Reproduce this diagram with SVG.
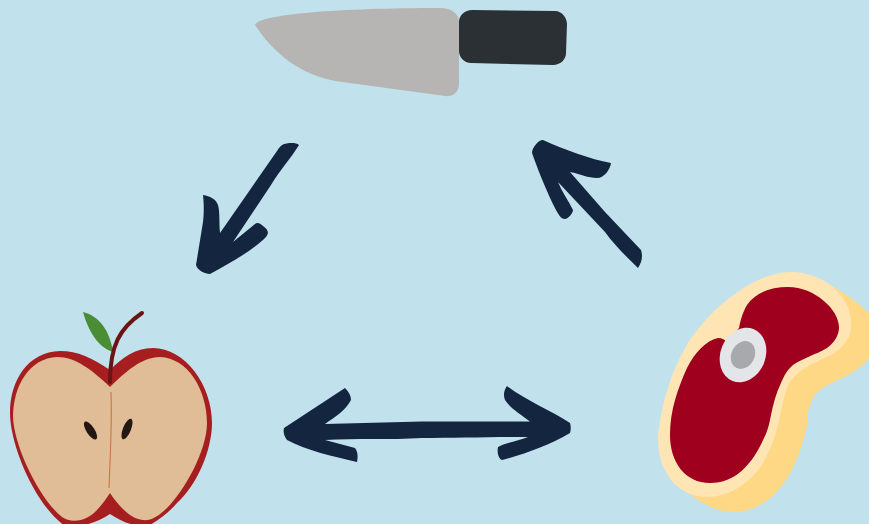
<svg xmlns="http://www.w3.org/2000/svg" width="869" height="524" viewBox="0 0 869 524">
<style>
.arrow{fill:#14253f}
.red{fill:#a61e20}
.flesh{fill:#e0bc97}
.seed{fill:#221811}
</style>
<rect width="869" height="524" fill="#c1e2ec"/>
<g id="knife">
<path fill="#b7b5b3" d="M255,25C258,14 340,8 440,8C452,8 459,14 459,22L459,84C459,92 453,97 445,96L335,81C300,74 275,55 255,25Z"/>
<path fill="#2b3034" d="M472,10L555,11C562,11 567,18 567,24L566,53C566,60 560,65 553,65L471,63C464,63 459,57 459,51L459,22C459,15 465,10 472,10Z"/>
</g>
<g id="apple">
<path class="red" d="M110,370C92,358 78,351 60,351C28,352 10,380 10,413C10,445 35,505 65,526C82,528 98,522 110,514C122,522 136,528 150,525C160,519 168,513 177,503C197,485 212,450 212,423C212,385 185,348 153,348C135,348 122,358 110,370Z"/>
<path class="flesh" d="M110,387C92,370 76,357 57,357C30,358 13,385 13,417C14,447 40,500 62,517C70,523 85,522 95,512C102,505 106,499 110,493Z"/>
<path class="flesh" d="M110,387C125,372 142,357 160,357C188,358 207,390 207,423C207,450 185,490 167,508C158,517 150,521 143,520C130,519 118,505 110,493Z"/>
<path fill="none" stroke="#c4703e" stroke-width="1" d="M111,392C112,425 110,460 109,488"/>
<ellipse class="seed" cx="90.500" cy="430.500" rx="4" ry="10.500" transform="rotate(-33 90.500 430.500)"/>
<ellipse class="seed" cx="127" cy="429" rx="4" ry="11" transform="rotate(22 127 429)"/>
<path fill="#4a8d35" d="M83,312C100,316 110,332 113,352C98,348 88,330 83,312Z"/>
<path fill="none" stroke="#6b1414" stroke-width="4" stroke-linecap="round" d="M110,382C110,345 120,328 142,313"/>
</g>
<g id="steak">
<path fill="#ffd885" d="M830,285C845,293 858,303 869,313L869,358C860,370 850,373 843,378C825,385 816,392 813,398C806,412 808,420 807,425C800,460 780,512 732,512C712,511 698,500 687,492Z"/>
<path fill="#ffe5b4" d="M790,272C825,272 851,297 851,322C851,332 850,336 847,340C838,355 822,358 810,365C800,371 794,376 790,382C784,392 783,405 779,420C775,440 770,450 763,463C750,483 730,497 707,497C680,497 658,475 658,438C660,410 670,375 683,352C700,318 750,272 790,272Z"/>
<path fill="#9e001e" d="M788,287C815,287 839,310 839,327C839,335 835,342 827,348C815,355 803,358 793,365C787,370 784,376 781,383C776,393 773,405 771,415C769,425 768,430 764,438C752,465 735,483 710,483C685,483 670,462 670,435C670,410 678,388 687,368C695,352 707,340 718,338C722,338 725,340 727,342L739,328C741,318 743,312 747,305C755,293 770,287 788,287Z"/>
<ellipse cx="743" cy="355" rx="22.500" ry="28" fill="#e3e5e8" transform="rotate(22 743 355)"/>
<ellipse cx="743" cy="355" rx="11.500" ry="14.500" fill="#a7a9ac" transform="rotate(28 743 355)"/>
</g>
<g id="connectors">
<path class="arrow" d="M299,145C296,142 288,143 284,144C280,146 279,148 277,151L220,233C219,222 220,212 218,205C216,199 210,196 203,195C204,205 204,212 203,222L196,265C197,270 205,274 210,274C230,263 252,251 266,237C270,232 267,229 263,226C260,223 257,222 255,224L233,242L271,185C280,170 291,158 299,145Z"/>
<path class="arrow" d="M543,140C565,150 590,159 611,163C610,170 604,178 597,178C588,178 580,174 570,172L605,212L641,250C643,256 642,262 638,268C628,258 615,246 605,232L558,182C562,192 568,200 573,210C573,213 568,219 565,219C563,219 561,218 559,215C550,200 538,170 532,153C532,148 538,140 543,140Z"/>
<path class="arrow" d="M284,428L345,388C349,392 351,396 351,400C346,410 335,417 325,424L422,421.500L530,421.500C520,414 510,408 505,400C503,395 504,390 507,386C525,400 550,410 570,423C571,426 571,430 570,433C550,445 525,454 502,460C498,458 497,452 498,447C505,443 518,441 528,437C495,437 455,438 422,438C390,440 355,438 325,440C335,443 345,445 355,448C358,452 358,457 357,462C335,457 305,450 287,440C284,436 283,432 284,428Z"/>
</g>
</svg>
